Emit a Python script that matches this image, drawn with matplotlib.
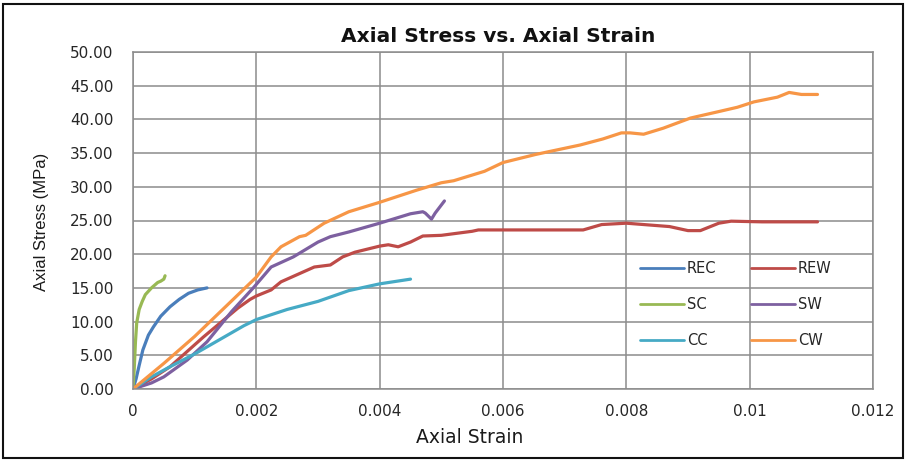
import matplotlib
matplotlib.use("Agg")
import matplotlib.pyplot as plt
from matplotlib.patches import Rectangle

# ---- data ----
rec_strain = [0, 0.00005, 0.0001, 0.00016, 0.00025, 0.00033, 0.00045, 0.0006, 0.00075, 0.0009, 0.00105, 0.0012]
rec_stress = [0, 1.5, 3.5, 5.8, 8.0, 9.2, 10.8, 12.2, 13.3, 14.2, 14.7, 15.0]

rew_strain = [0, 0.0003, 0.0006, 0.00114, 0.0017, 0.0019, 0.002, 0.00224, 0.0024, 0.00294, 0.0032,
              0.0034, 0.0036, 0.004, 0.00414, 0.0043, 0.0045, 0.0047, 0.005, 0.0055, 0.0056,
              0.0073, 0.0076, 0.008, 0.0087, 0.009, 0.0092, 0.0095, 0.0097, 0.0102, 0.0111]
rew_stress = [0, 1.5, 3.3, 7.7, 12.0, 13.3, 13.8, 14.7, 15.9, 18.1, 18.4,
              19.6, 20.3, 21.2, 21.4, 21.1, 21.8, 22.7, 22.8, 23.4, 23.6,
              23.6, 24.4, 24.6, 24.1, 23.5, 23.5, 24.6, 24.9, 24.8, 24.8]

sc_strain = [0, 0.00002, 0.00004, 0.00006, 0.0001, 0.00015, 0.0002, 0.0003, 0.0004, 0.00045, 0.0005, 0.00052]
sc_stress = [0, 3.0, 7.0, 9.8, 11.8, 13.0, 14.0, 15.0, 15.8, 16.0, 16.3, 16.8]

sw_strain = [0, 0.0003, 0.0005, 0.00088, 0.0012, 0.0016, 0.00196, 0.00224, 0.0026, 0.003, 0.0032,
             0.0035, 0.004, 0.0045, 0.0047, 0.00474, 0.00484, 0.0049, 0.00505]
sw_stress = [0, 0.9, 1.8, 4.3, 7.0, 11.5, 15.1, 18.1, 19.6, 21.8, 22.6,
             23.3, 24.6, 26.0, 26.3, 26.1, 25.2, 26.1, 27.9]

cc_strain = [0, 0.0003, 0.0006, 0.001, 0.0014, 0.0018, 0.002, 0.0025, 0.003, 0.0035, 0.004, 0.0045]
cc_stress = [0, 1.8, 3.3, 5.2, 7.3, 9.4, 10.3, 11.8, 13.0, 14.6, 15.6, 16.3]

cw_strain = [0, 0.0005, 0.001, 0.0015, 0.002, 0.00224, 0.0024, 0.0027, 0.0028, 0.0031, 0.0035,
             0.004, 0.0046, 0.005, 0.0052, 0.0057, 0.006, 0.00653, 0.00725, 0.00762, 0.00792,
             0.00806, 0.00828, 0.0086, 0.00904, 0.00947, 0.0098, 0.01007, 0.01045, 0.01064,
             0.01084, 0.0111]
cw_stress = [0, 3.8, 7.8, 12.2, 16.6, 19.6, 21.1, 22.6, 22.8, 24.6, 26.3,
             27.7, 29.5, 30.6, 30.9, 32.3, 33.6, 34.8, 36.2, 37.1, 38.0,
             38.0, 37.8, 38.7, 40.2, 41.1, 41.8, 42.6, 43.3, 44.0,
             43.7, 43.7]

series = [
    ("REC", rec_strain, rec_stress, "#4A7EBB"),
    ("REW", rew_strain, rew_stress, "#BE4B48"),
    ("SC", sc_strain, sc_stress, "#98B954"),
    ("SW", sw_strain, sw_stress, "#7D60A0"),
    ("CC", cc_strain, cc_stress, "#46AAC5"),
    ("CW", cw_strain, cw_stress, "#F79646"),
]

x_ticks = [0, 0.002, 0.004, 0.006, 0.008, 0.01, 0.012]
x_tick_labels = ["0", "0.002", "0.004", "0.006", "0.008", "0.01", "0.012"]
y_ticks = [0, 5, 10, 15, 20, 25, 30, 35, 40, 45, 50]

W, H = 907, 462
fig = plt.figure(figsize=(W / 100, H / 100), dpi=100)
L, R, T, B = 133, 873, 52, 389
ax = fig.add_axes([L / W, 1 - B / H, (R - L) / W, (B - T) / H])

handles = {}
for name, xs, ys, col in series:
    h, = ax.plot(xs, ys, color=col, lw=2.3, solid_capstyle="round", solid_joinstyle="round")
    handles[name] = h

ax.set_xlim(0, 0.012)
ax.set_ylim(0, 50)
ax.set_xticks(x_ticks)
ax.set_xticklabels(x_tick_labels)
ax.set_yticks(y_ticks)
ax.set_yticklabels([f"{v:.2f}" for v in y_ticks])
ax.grid(True, color="#8C8C8C", lw=1.1)
ax.set_axisbelow(True)
for s in ax.spines.values():
    s.set_color("#8C8C8C")
    s.set_linewidth(1.1)
ax.tick_params(axis="both", length=0, labelsize=11, colors="#262626")
ax.tick_params(axis="y", pad=14)
ax.tick_params(axis="x", pad=11)
for lab in ax.get_xticklabels() + ax.get_yticklabels():
    lab.set_family("DejaVu Sans")

ax.set_xlabel("Axial Strain", fontsize=13.5, family="DejaVu Sans", color="#1a1a1a")
ax.xaxis.set_label_coords(0.455, -0.115)
ax.set_ylabel("Axial Stress (MPa)", fontsize=12, family="Liberation Sans", color="#1a1a1a")
ax.yaxis.set_label_coords(-0.1135, 0.495)

fig.text(498 / W, 1 - 37 / H, "Axial Stress vs. Axial Strain", ha="center", va="center",
         fontsize=14.5, fontweight="bold", family="DejaVu Sans", color="#111111")

order = ["REC", "SC", "CC", "REW", "SW", "CW"]
leg = ax.legend([handles[n] for n in order], order, ncol=2, frameon=False,
                loc="upper left", bbox_to_anchor=(640 / W, 1 - 261 / H),
                bbox_transform=fig.transFigure, borderaxespad=0, borderpad=0,
                handlelength=3.0, handletextpad=0.2, labelspacing=1.45,
                columnspacing=2.4, prop={"family": "DejaVu Sans", "size": 10.5})
for line in leg.get_lines():
    line.set_linewidth(2.0)
for t in leg.get_texts():
    t.set_color("#262626")

fig.patches.append(Rectangle((3 / W, 4 / H), 900 / W, 454 / H, transform=fig.transFigure,
                             fill=False, edgecolor="#111111", lw=1.5))

fig.savefig("out.png", dpi=100)
